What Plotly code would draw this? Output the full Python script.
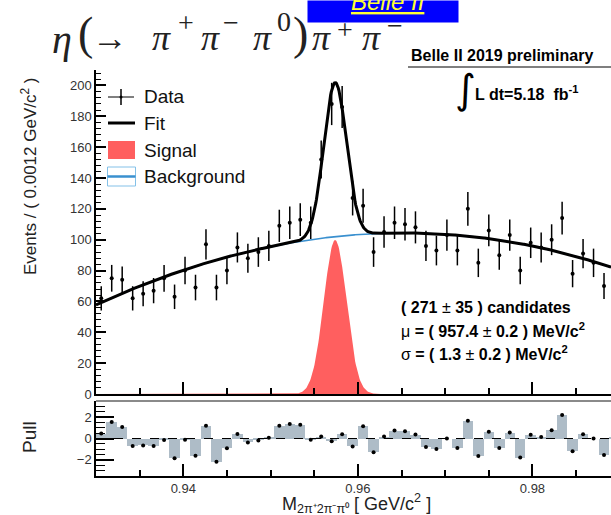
import numpy as np
import plotly.graph_objects as go

# ---- histogram of the eta candidate mass ----
mass_lo = 0.930          # GeV/c^2, lower edge of the first bin
bin_width = 0.0012       # GeV/c^2
counts = [62, 75, 74, 62, 65, 67, 75, 63, 80, 69,
          97, 69, 80, 95, 88, 92, 96, 109, 111, 113,
          111, 152, 188, 186, 127, 122, 92, 105, 111, 110,
          108, 96, 93, 103, 93, 120, 85, 106, 90, 103,
          80, 98, 95, 100, 114, 78, 91, 85, 70, 82]
pulls = [0.46, 1.54, 1.08, -0.71, -0.65, -0.71, -0.15, -1.85, -0.12, -1.60,
         1.20, -2.18, -0.92, 0.43, -0.37, -0.18, 0.06, 1.20, 1.35, 1.29,
         -0.12, 0.18, -0.25, 0.40, -0.74, 1.14, -1.29, 0.18, 0.74, 0.68,
         0.37, -0.80, -0.98, 0.00, -0.89, 1.66, -1.63, 0.62, -0.89, 0.55,
         -1.78, 0.34, 0.15, 0.77, 2.20, -1.20, 0.40, 0.00, -1.54, 0.15]
centers = mass_lo + bin_width * (np.arange(len(counts)) + 0.5)
errors = np.sqrt(counts)

# ---- fit result ----
n_sig = 271
mu = 0.9574
sigma = 0.0013
# background level (events / bin) along the mass axis
bkg_mass = [0.930, 0.9378, 0.945, 0.9498, 0.9574, 0.963, 0.9702, 0.975, 0.981, 0.9858, 0.9894]
bkg_level = [58.4, 74.7, 88.5, 95.6, 103.0, 104.4, 103.2, 100.0, 94.6, 88.1, 81.6]

x_range = [0.930, 0.989]
main_range = [0, 210]
pull_range = [-3.5, 3.5]

# ---- page geometry (pixels) ----
W, H = 611, 515
L, R, T, B = 96, 0, 70, 39
PW, PH = W - L - R, H - T - B
main_bottom_px, pull_top_px = 394, 401


def px(xp):
    return (xp - L) / PW


def py(yp):
    return (H - B - yp) / PH


main_dom = [py(main_bottom_px), 1.0]
pull_dom = [0.0, py(pull_top_px)]

xf = np.linspace(x_range[0], x_range[1], 800)
bkg_curve = np.polyval(np.polyfit(bkg_mass, bkg_level, 3), xf)
sig_curve = n_sig * bin_width / (np.sqrt(2 * np.pi) * sigma) * np.exp(-0.5 * ((xf - mu) / sigma) ** 2)
fit_curve = bkg_curve + sig_curve

RED = "#ff5f5f"
BLUE = "#3a90cf"
PULLC = "#aebcc7"
FONT = "Liberation Sans"

fig = go.Figure()
fig.add_trace(go.Scatter(x=xf, y=sig_curve, mode="lines", fill="tozeroy",
                         fillcolor=RED, line=dict(width=0, color=RED),
                         xaxis="x", yaxis="y", showlegend=False, hoverinfo="skip"))
fig.add_trace(go.Scatter(x=xf, y=bkg_curve, mode="lines", line=dict(color=BLUE, width=1.6),
                         xaxis="x", yaxis="y", showlegend=False))
fig.add_trace(go.Scatter(x=xf, y=fit_curve, mode="lines", line=dict(color="black", width=3),
                         xaxis="x", yaxis="y", showlegend=False))
fig.add_trace(go.Scatter(x=centers, y=counts, mode="markers",
                         marker=dict(color="black", size=4),
                         error_y=dict(type="data", array=errors, color="black", thickness=1.5, width=0),
                         xaxis="x", yaxis="y", showlegend=False))

# pull panel
fig.add_trace(go.Bar(x=centers, y=pulls, width=bin_width, marker=dict(color=PULLC, line=dict(width=0)),
                     xaxis="x2", yaxis="y2", showlegend=False))
fig.add_trace(go.Scatter(x=centers, y=pulls, mode="markers", marker=dict(color="black", size=4),
                         xaxis="x2", yaxis="y2", showlegend=False))

tickfont = dict(family=FONT, size=13, color="#333333")
common_x = dict(range=x_range, tick0=0.94, dtick=0.02, ticks="inside", ticklen=12, tickwidth=1.5,
                tickcolor="black", minor=dict(dtick=0.005, ticks="inside", ticklen=6, tickwidth=1.5,
                                              tickcolor="black"),
                showline=True, linecolor="black", linewidth=1.5, showgrid=False, zeroline=False,
                tickfont=tickfont)

shapes = []
annotations = []

# decay-channel heading, set piece by piece in a math-like serif
title_pieces = [
    # text, centre x, centre y, size
    ("<i>η</i>", 62, 40, 40),
    ("(", 85, 33, 46),
    ("→", 110, 38, 36),
    ("<i>π</i>", 161, 38, 36),
    ("+", 186, 23, 28),
    ("<i>π</i>", 210, 38, 36),
    ("−", 231, 23, 28),
    ("<i>π</i>", 262, 38, 36),
    ("0", 284, 22, 28),
    (")", 300, 33, 46),
    ("<i>π</i>", 321, 38, 36),
    ("+", 345, 29, 28),
    ("<i>π</i>", 371, 38, 36),
    ("−", 395, 26, 28),
]
for txt, cx, cy, sz in title_pieces:
    annotations.append(dict(xref="paper", yref="paper", x=px(cx), y=py(cy), xanchor="center",
                            yanchor="middle", showarrow=False, text=txt,
                            font=dict(family="Liberation Serif", size=sz, color="#222222")))

# blue banner at the very top
annotations.append(dict(xref="paper", yref="paper", x=px(307), y=py(0), xanchor="left", yanchor="top",
                        showarrow=False, text="", width=150, height=21, bgcolor="#0000ff", borderpad=0))
annotations.append(dict(xref="paper", yref="paper", x=px(349), y=py(17.5), xanchor="left", yanchor="bottom",
                        showarrow=False, text="<u><i>Belle II</i></u>",
                        font=dict(family=FONT, size=24, color="#ffff33")))

annotations.append(dict(xref="paper", yref="paper", x=px(409), y=py(56), xanchor="left", yanchor="middle",
                        showarrow=False, text="<b>Belle II 2019 preliminary</b>",
                        font=dict(family=FONT, size=16, color="black")))
shapes.append(dict(type="line", xref="paper", yref="paper", x0=px(408), x1=px(611), y0=py(67), y1=py(67),
                   line=dict(color="#555555", width=1.5)))
annotations.append(dict(xref="paper", yref="paper", x=px(465), y=py(89), xanchor="center", yanchor="middle",
                        showarrow=False, text="∫",
                        font=dict(family="DejaVu Sans", size=40, color="black")))
annotations.append(dict(xref="paper", yref="paper", x=px(473), y=py(93), xanchor="left", yanchor="middle",
                        showarrow=False, text="<b>L dt=5.18  fb<sup>-1</sup></b>",
                        font=dict(family=FONT, size=16, color="black")))

# axis titles
annotations.append(dict(xref="paper", yref="paper", x=px(29), y=py(176), xanchor="center", yanchor="middle",
                        showarrow=False, textangle=-90, text="Events / ( 0.0012 GeV/c<sup>2</sup> )",
                        font=dict(family=FONT, size=17, color="#222222")))
annotations.append(dict(xref="paper", yref="paper", x=px(29), y=py(437), xanchor="center", yanchor="middle",
                        showarrow=False, textangle=-90, text="Pull",
                        font=dict(family=FONT, size=19, color="#222222")))
annotations.append(dict(xref="paper", yref="paper", x=px(356), y=py(504), xanchor="center", yanchor="middle",
                        showarrow=False, text="M<sub>2π⁺2π⁻π⁰</sub> [ GeV/c<sup>2</sup> ]",
                        font=dict(family=FONT, size=18, color="#222222")))

# fit summary
stat_lines = ["<b>( 271 </b>±<b> 35 ) candidates</b>",
              "μ<b> = ( 957.4 </b>±<b> 0.2 ) MeV/c<sup>2</sup></b>",
              "σ<b> = ( 1.3 </b>±<b> 0.2 ) MeV/c<sup>2</sup></b>"]
for i, s in enumerate(stat_lines):
    annotations.append(dict(xref="paper", yref="paper", x=px(399), y=py(307 + 23 * i), xanchor="left",
                            yanchor="middle", showarrow=False, text=s,
                            font=dict(family=FONT, size=16, color="black")))

# legend
leg_font = dict(family=FONT, size=19, color="#111111")
for label, yc in [("Data", 97), ("Fit", 123), ("Signal", 150), ("Background", 176.5)]:
    annotations.append(dict(xref="paper", yref="paper", x=px(142), y=py(yc), xanchor="left", yanchor="middle",
                            showarrow=False, text=label, font=leg_font))
shapes += [
    dict(type="line", xref="paper", yref="paper", x0=px(108), x1=px(134), y0=py(97), y1=py(97),
         line=dict(color="black", width=1)),
    dict(type="line", xref="paper", yref="paper", x0=px(121), x1=px(121), y0=py(89), y1=py(105),
         line=dict(color="black", width=1.5)),
    dict(type="circle", xref="paper", yref="paper", x0=px(119.5), x1=px(122.5), y0=py(95.5), y1=py(98.5),
         fillcolor="black", line=dict(width=0)),
    dict(type="line", xref="paper", yref="paper", x0=px(108), x1=px(135), y0=py(123), y1=py(123),
         line=dict(color="black", width=3)),
    dict(type="rect", xref="paper", yref="paper", x0=px(108), x1=px(135), y0=py(159), y1=py(141),
         fillcolor=RED, line=dict(width=0)),
    dict(type="rect", xref="paper", yref="paper", x0=px(107.5), x1=px(135.5), y0=py(186), y1=py(167),
         fillcolor="white", line=dict(color="#84c1e8", width=1)),
    dict(type="line", xref="paper", yref="paper", x0=px(107.5), x1=px(135.5), y0=py(176.5), y1=py(176.5),
         line=dict(color=BLUE, width=2.5)),
]

# pull panel decorations
shapes.append(dict(type="line", xref="x2 domain", yref="y2", x0=0, x1=1, y0=0, y1=0,
                   line=dict(color="black", width=1, dash="dash"), layer="above"))
shapes.append(dict(type="line", xref="paper", yref="paper", x0=0, x1=1, y0=pull_dom[1], y1=pull_dom[1],
                   line=dict(color="#8a8a8a", width=2)))

fig.update_layout(
    width=W, height=H, margin=dict(l=L, r=R, t=T, b=B, pad=0),
    plot_bgcolor="white", paper_bgcolor="white", showlegend=False, bargap=0,
    xaxis=dict(domain=[0, 1], anchor="y", showticklabels=False, **common_x),
    xaxis2=dict(domain=[0, 1], anchor="y2", showticklabels=True, **common_x),
    yaxis=dict(domain=main_dom, anchor="x", range=main_range, dtick=20, tick0=0, ticks="inside", ticklen=10,
               tickwidth=1.5, tickcolor="black",
               minor=dict(dtick=4, ticks="inside", ticklen=5, tickwidth=1.2, tickcolor="black"),
               showline=True, linecolor="black", linewidth=1.5, showgrid=False, zeroline=False,
               tickfont=tickfont),
    yaxis2=dict(domain=pull_dom, anchor="x2", range=pull_range, dtick=2, tick0=0, ticks="inside", ticklen=18,
                tickwidth=1.5, tickcolor="black",
                minor=dict(dtick=0.5, ticks="inside", ticklen=9, tickwidth=1.2, tickcolor="black"),
                showline=True, linecolor="black", linewidth=1.5, showgrid=False, zeroline=False,
                tickfont=tickfont),
    shapes=shapes, annotations=annotations,
)

fig.write_html("out.html")
